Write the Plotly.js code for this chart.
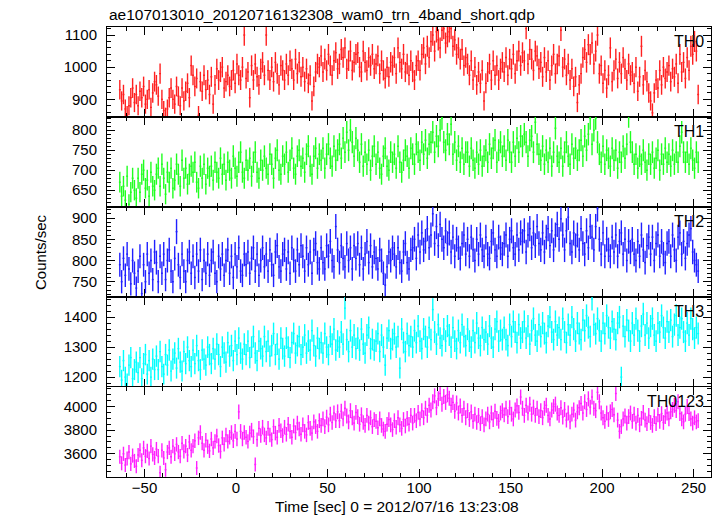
<!DOCTYPE html>
<html>
<head>
<meta charset="utf-8">
<script src="https://cdn.plot.ly/plotly-3.0.1.min.js"></script>
<style>html,body{margin:0;padding:0;background:#fff;}#chart{width:717px;height:516px;}</style>
</head>
<body>
<div id="chart"></div>
<script>
// Light-curve bins: 1 s bins starting at t = -63.5 s
const tStart = -63.5;
const binWidth = 1;

const panelNames = ["TH0", "TH1", "TH2", "TH3", "TH0123"];

const th0 = [
930,895,915,870,850,880,905,935,890,915,
880,925,905,940,885,900,930,875,920,955,
945,910,980,900,865,845,870,905,935,900,
885,940,910,880,935,895,925,950,905,1005,
975,940,965,850,955,925,975,930,960,915,
970,885,945,995,960,985,1000,935,955,975,
940,960,990,950,1010,975,960,1000,1100,965,
985,905,1005,960,1010,970,945,995,1015,975,
1100,990,960,1000,955,1015,980,945,1005,990,
960,1010,975,1020,995,960,1025,980,1015,970,
1000,955,995,950,975,895,940,985,1010,1000,
1035,985,1025,990,1040,1005,975,1020,1045,995,
1010,1055,1030,1060,995,1020,1050,990,1015,1040,
1045,1000,985,1050,1015,990,1030,1005,1040,995,
1010,1035,980,1020,990,965,1000,970,1015,1005,
1030,980,1060,1015,995,1040,985,1010,975,1020,
985,960,1005,1020,990,1040,1060,1010,1065,1030,
1080,1100,1050,1110,1085,1060,1115,1120,1075,1095,
1110,1120,1065,1085,1040,1060,1025,1055,1005,1030,
1010,975,1020,960,1000,945,985,950,990,895,
950,985,1010,960,1020,975,1005,960,995,1015,
985,1030,975,1025,995,1040,980,1020,1050,1005,
1045,1020,1120,1010,1055,1025,990,1050,1035,995,
1015,970,1030,985,1020,960,1005,1040,980,1010,
1035,1115,1000,1025,975,1010,960,995,940,970,
890,945,980,1030,1055,1015,1070,1040,1075,1010,
1050,1100,980,1005,950,990,935,975,1060,955,
990,1025,965,1015,980,1030,995,960,1010,975,
985,950,1000,925,970,1065,945,990,955,920,
895,858,920,960,935,990,945,1000,965,985,
1005,955,995,970,1010,950,1040,985,1015,965,
1030,990,1065,1040,1080,1050,915
];

const th1 = [
670,635,660,625,685,615,645,680,650,630,
680,645,690,700,655,675,635,695,660,650,
690,705,660,715,680,640,695,670,705,655,
675,715,690,660,725,680,705,665,690,710,
695,720,670,655,710,680,715,665,705,685,
710,675,720,695,680,730,690,715,675,720,
700,680,735,705,685,720,745,695,680,725,
700,730,685,720,745,695,680,725,700,735,
705,690,740,715,680,730,750,700,690,735,
715,745,695,725,755,705,690,735,750,710,
730,695,740,760,710,690,735,755,705,740,
725,755,705,740,765,730,710,760,725,750,
765,730,780,745,795,750,800,770,735,780,
750,720,765,710,745,715,750,700,735,760,
715,745,705,690,735,755,710,700,745,720,
740,705,760,720,695,725,750,735,705,755,
740,715,765,745,725,770,740,775,730,765,
770,795,745,785,760,800,830,770,750,790,
765,815,740,770,725,760,720,755,715,745,
745,710,755,725,705,745,715,750,710,735,
750,720,765,730,755,775,720,750,770,735,
760,725,775,745,720,770,735,780,745,785,
760,790,770,735,775,785,745,820,765,740,
725,760,715,750,720,755,710,745,805,735,
720,755,710,745,770,735,715,765,730,755,
725,750,775,735,785,750,790,830,765,800,
830,770,740,720,760,715,750,730,710,755,
725,750,705,745,720,760,730,765,835,770,
745,715,740,705,735,715,750,720,700,740,
715,745,705,730,750,700,740,715,755,720,
740,710,750,715,745,720,760,795,745,720,
745,715,755,725,705,745,720
];

const th2 = [
790,750,805,765,815,780,745,800,770,735,
775,810,722,790,750,815,770,800,755,820,
795,750,810,770,815,755,800,825,775,750,
805,868,790,760,815,775,750,800,820,770,
810,760,815,775,825,755,800,770,815,765,
800,820,770,750,810,780,815,765,800,825,
770,810,760,815,785,830,775,765,815,790,
820,770,805,830,775,815,765,800,830,785,
815,775,825,790,765,820,835,785,775,815,
825,780,820,770,830,800,775,825,790,835,
810,775,830,790,820,770,825,840,795,780,
830,795,780,835,810,845,800,785,880,825,
795,835,805,785,840,800,830,780,835,805,
840,790,830,780,815,845,795,835,785,820,
805,780,825,800,770,742,785,820,800,830,
815,785,830,795,775,820,840,795,780,825,
830,850,805,860,820,865,825,845,875,830,
860,910,840,880,835,885,850,830,870,840,
865,820,855,810,850,830,805,840,860,815,
850,810,855,825,800,850,815,860,825,810,
855,815,805,845,865,825,810,855,830,815,
840,860,810,850,870,830,815,860,825,865,
845,870,820,860,875,830,865,835,880,840,
825,865,820,855,875,835,870,825,860,885,
850,898,860,825,870,902,840,820,865,835,
860,825,875,840,815,870,830,880,855,825,
880,922,850,815,865,810,850,825,810,855,
820,860,810,845,865,815,850,800,845,820,
850,815,800,845,810,860,825,795,835,855,
815,855,800,840,860,810,845,815,795,840,
845,810,860,825,800,855,865,815,845,805,
840,860,875,820,800,790,775
];

const th3 = [
1235,1190,1255,1200,1178,1240,1265,1195,1225,1250,
1215,1265,1195,1245,1275,1210,1255,1200,1260,1225,
1270,1225,1285,1235,1210,1275,1240,1290,1220,1260,
1280,1230,1295,1250,1220,1285,1245,1300,1255,1235,
1290,1245,1305,1255,1225,1290,1260,1240,1300,1275,
1245,1295,1260,1310,1275,1235,1300,1280,1250,1315,
1270,1305,1255,1320,1275,1330,1280,1260,1310,1275,
1320,1265,1300,1335,1280,1255,1320,1295,1270,1335,
1285,1320,1270,1305,1345,1275,1310,1260,1330,1295,
1270,1330,1300,1265,1315,1345,1280,1305,1335,1275,
1300,1340,1280,1320,1290,1355,1305,1270,1330,1295,
1315,1280,1345,1300,1275,1335,1310,1360,1290,1320,
1300,1350,1310,1430,1325,1285,1355,1300,1340,1295,
1330,1290,1360,1310,1280,1340,1365,1295,1325,1290,
1320,1345,1285,1340,1300,1240,1330,1355,1295,1325,
1345,1300,1335,1230,1360,1315,1285,1345,1305,1335,
1300,1355,1315,1370,1320,1295,1360,1335,1300,1365,
1325,1425,1350,1310,1375,1330,1305,1360,1320,1370,
1340,1300,1365,1320,1295,1355,1315,1375,1335,1305,
1360,1320,1300,1355,1315,1380,1330,1305,1365,1325,
1350,1310,1370,1330,1300,1360,1385,1320,1355,1325,
1365,1325,1305,1375,1335,1385,1350,1315,1375,1330,
1350,1385,1330,1370,1310,1355,1395,1340,1320,1375,
1335,1380,1345,1315,1370,1400,1350,1325,1385,1340,
1365,1325,1395,1350,1315,1375,1340,1400,1360,1320,
1380,1345,1325,1390,1355,1405,1365,1335,1460,1375,
1345,1395,1355,1320,1380,1345,1405,1365,1330,1385,
1360,1325,1380,1400,1200,1370,1335,1390,1355,1320,
1380,1340,1395,1355,1320,1370,1410,1340,1380,1330,
1370,1395,1340,1320,1380,1350,1405,1365,1330,1385,
1350,1390,1335,1375,1405,1340,1365,1395,1350,1320,
1380,1340,1395,1360,1330,1365,1345
];

const th0123 = [
3575,3520,3600,3505,3560,3615,3515,3585,3540,3495,
3590,3630,3545,3650,3580,3625,3560,3665,3595,3565,
3640,3580,3440,3630,3565,3465,3615,3650,3575,3665,
3600,3680,3615,3580,3690,3620,3665,3590,3700,3630,
3665,3710,3480,3735,3780,3690,3630,3715,3660,3625,
3725,3650,3705,3750,3670,3620,3735,3680,3760,3705,
3740,3780,3710,3790,3725,3955,3790,3725,3780,3740,
3705,3775,3800,3745,3510,3720,3815,3755,3825,3760,
3735,3815,3760,3720,3830,3775,3740,3840,3795,3755,
3825,3765,3850,3790,3740,3835,3780,3860,3810,3765,
3845,3790,3760,3865,3815,3775,3870,3830,3790,3880,
3840,3895,3830,3910,3845,3935,3865,3945,3880,3955,
3880,3960,3895,3985,3920,3870,3965,3905,3860,3950,
3915,3850,3930,3865,3840,3925,3860,3905,3830,3890,
3875,3820,3895,3840,3810,3790,3850,3890,3845,3805,
3880,3825,3905,3845,3815,3890,3835,3900,3850,3925,
3860,3925,3880,3950,3895,3965,3905,3985,3925,4010,
3970,4040,4090,3990,4065,4110,4020,4085,4035,4100,
4070,4010,4035,3960,4030,3945,4005,3925,3985,3905,
3965,3890,3955,3875,3935,3865,3925,3855,3915,3845,
3895,3935,3870,3945,3890,3960,3900,3875,3945,3965,
3930,3985,3915,3990,3935,3895,3970,4005,3950,4080,
3985,3925,4010,3945,4020,3935,3995,3925,3985,3915,
3965,3905,3985,4010,3925,3895,3970,4000,4020,3945,
3925,3990,3910,3975,3885,3945,3870,3935,3970,3885,
3955,3990,4025,3945,4040,3975,4065,3995,4080,3985,
3965,4120,4040,3945,3905,3875,3945,3890,3955,3975,
3930,4110,3885,3790,3830,3895,3920,3860,3915,3945,
3875,3935,3860,3925,3845,3900,3950,3885,3855,3925,
3865,3840,3915,3855,3930,3875,3940,3865,3915,3945,
3895,3955,3975,4010,3965,4040,3940,3895,3870,3935,
4000,3940,3895,3860,3905,3870,3880
];

const series = [th0, th1, th2, th3, th0123];
const colors = ["#ff2020", "#20ff20", "#2020ff", "#00ffff", "#ff20ff"];
const yRanges = [[845, 1125], [608, 833], [714, 926], [1167, 1467], [3404, 4165]];
const yDticks = [100, 50, 50, 100, 200];
const yMinor = [20, 10, 10, 20, 50];

const FONT = "Liberation Sans, Arial, Helvetica, sans-serif";
const traces = [];
const layout = {
  width: 717, height: 516,
  margin: {l: 107, r: 6, t: 27, b: 39},
  showlegend: false,
  paper_bgcolor: "#fff", plot_bgcolor: "#fff",
  font: {family: FONT, size: 15, color: "#000"},
  annotations: []
};

series.forEach((vals, k) => {
  const n = k + 1;
  const time = vals.map((_, i) => tStart + i * binWidth);
  traces.push({
    type: "scatter", mode: "markers",
    x: time, y: vals,
    xaxis: "x" + n, yaxis: "y" + n,
    marker: {size: 1, opacity: 0, color: colors[k]},
    error_y: {type: "data", array: vals.map(v => Math.sqrt(v / binWidth)), width: 0, thickness: 1.4, color: colors[k]},
    error_x: {type: "constant", value: binWidth / 2, width: 0, thickness: 1.4, color: colors[k]},
    hoverinfo: "skip"
  });
  const top = 1 - 0.2 * k, bot = top - 0.2;
  layout["xaxis" + n] = {
    domain: [0, 1], anchor: "y" + n, range: [-70.5, 259.5],
    tick0: 0, dtick: 50, ticks: "inside", ticklen: 8, tickwidth: 1, tickcolor: "#000",
    minor: {ticks: "inside", ticklen: 4, dtick: 10, tick0: 0, tickcolor: "#000"},
    mirror: "allticks", showline: true, linecolor: "#000", linewidth: 1,
    showgrid: false, zeroline: false, showticklabels: n === 5,
    ticklabelstandoff: -3,
    tickfont: {family: FONT, size: 15, color: "#000"}
  };
  if (n > 1) layout["xaxis" + n].matches = "x";
  layout["yaxis" + n] = {
    domain: [bot, top], anchor: "x" + n, range: yRanges[k],
    tick0: 0, dtick: yDticks[k], ticks: "inside", ticklen: 8, tickwidth: 1, tickcolor: "#000",
    minor: {ticks: "inside", ticklen: 4, dtick: yMinor[k], tick0: 0, tickcolor: "#000"},
    mirror: "allticks", showline: true, linecolor: "#000", linewidth: 1,
    showgrid: false, zeroline: false, ticklabelstandoff: 6,
    tickfont: {family: FONT, size: 15, color: "#000"}
  };
  layout.annotations.push({
    text: panelNames[k], xref: "paper", yref: "paper",
    x: 0.992, y: top - 0.008, xanchor: "right", yanchor: "top",
    showarrow: false, font: {family: FONT, size: 16, color: "#000"}
  });
});

layout.annotations.push({
  text: "ae107013010_20120716132308_wam0_trn_4band_short.qdp",
  xref: "paper", yref: "paper", x: 0, y: 1, yshift: 2, xanchor: "left", yanchor: "bottom",
  showarrow: false, font: {family: FONT, size: 15.5, color: "#000"}
});
layout.annotations.push({
  text: "Counts/sec", xref: "paper", yref: "paper", x: 0, xshift: -67, y: 0.5,
  xanchor: "center", yanchor: "middle", textangle: -90,
  showarrow: false, font: {family: FONT, size: 15, color: "#000"}
});
layout.annotations.push({
  text: "Time [sec] 0 = 2012/07/16 13:23:08",
  xref: "paper", yref: "paper", x: 0.48, y: 0, yshift: -40, xanchor: "center", yanchor: "bottom",
  showarrow: false, font: {family: FONT, size: 15.5, color: "#000"}
});

Plotly.newPlot("chart", traces, layout, {displayModeBar: false, staticPlot: true});
</script>
</body>
</html>
